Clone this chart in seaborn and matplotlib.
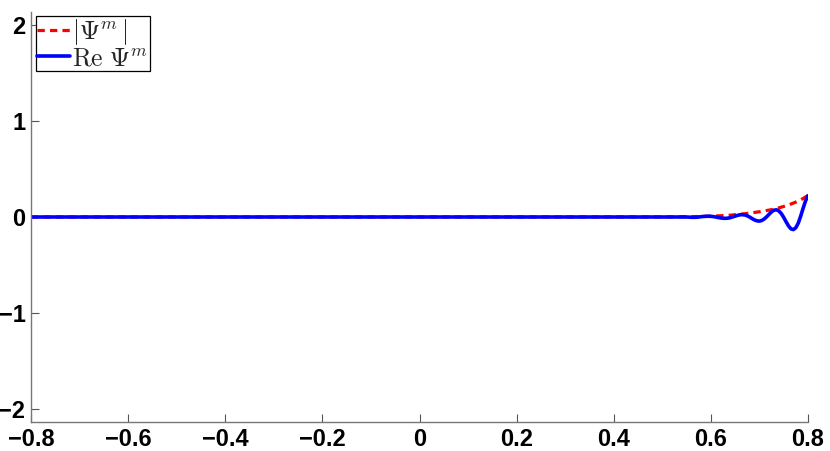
import numpy as np
import pandas as pd
import matplotlib
matplotlib.use("Agg")
import matplotlib.pyplot as plt
import seaborn as sns

# |Psi^m| (envelope)
x_abs = [-0.80, 0.50, 0.55, 0.58, 0.60, 0.62, 0.64, 0.66, 0.68, 0.70, 0.72,
         0.73, 0.74, 0.75, 0.76, 0.77, 0.78, 0.79, 0.80]
abs_vals = [0.0, 0.001, 0.003, 0.005, 0.009, 0.013, 0.019, 0.029, 0.040, 0.055, 0.072,
            0.082, 0.095, 0.110, 0.126, 0.145, 0.166, 0.193, 0.225]

# Re Psi^m
x_re = [-0.80, 0.50, 0.55, 0.56, 0.57, 0.575, 0.58, 0.585, 0.59, 0.595, 0.60,
        0.605, 0.61, 0.615, 0.62, 0.625, 0.63, 0.635, 0.64, 0.645, 0.65,
        0.655, 0.66, 0.665, 0.67, 0.675, 0.68, 0.685, 0.69, 0.695, 0.70,
        0.705, 0.71, 0.715, 0.72, 0.725, 0.73, 0.735, 0.74, 0.745, 0.75,
        0.755, 0.76, 0.765, 0.77, 0.775, 0.78, 0.785, 0.79, 0.795, 0.80]
re_vals = [0.0, 0.0, 0.0, -0.003, -0.003, 0.0, 0.003, 0.006, 0.007, 0.008, 0.007,
           0.004, 0.0, -0.005, -0.010, -0.013, -0.014, -0.012, -0.007, 0.001, 0.009,
           0.017, 0.023, 0.024, 0.021, 0.012, -0.001, -0.017, -0.031, -0.040, -0.043,
           -0.036, -0.020, 0.003, 0.029, 0.054, 0.071, 0.075, 0.063, 0.036, -0.004,
           -0.051, -0.094, -0.124, -0.131, -0.111, -0.063, 0.010, 0.092, 0.168, 0.222]

x_ticks = [-0.8, -0.6, -0.4, -0.2, 0, 0.2, 0.4, 0.6, 0.8]
x_tick_labels = ["\u22120.8", "\u22120.6", "\u22120.4", "\u22120.2", "0", "0.2", "0.4", "0.6", "0.8"]
y_ticks = [-2, -1, 0, 1, 2]
y_tick_labels = ["\u22122", "\u22121", "0", "1", "2"]

sns.set_style("ticks")
plt.rcParams["font.family"] = ["Liberation Sans", "DejaVu Sans"]
plt.rcParams["mathtext.fontset"] = "cm"

fig = plt.figure(figsize=(8.30, 4.51), dpi=100)
ax = fig.add_axes([31 / 830, 1 - 422 / 451, 777 / 830, 410 / 451])

df_abs = pd.DataFrame({"x": x_abs, "y": abs_vals})
df_re = pd.DataFrame({"x": x_re, "y": re_vals})

sns.lineplot(data=df_abs, x="x", y="y", ax=ax, color="#ff0000", lw=2.3,
             linestyle=(0, (2.3, 1.6)), estimator=None, label=r"$|\Psi^m\,|$")
sns.lineplot(data=df_re, x="x", y="y", ax=ax, color="#0000ff", lw=2.6,
             estimator=None, label=r"$\mathrm{Re}\ \Psi^m$")

ax.set_xlim(-0.8, 0.8)
ax.set_ylim(-2.135, 2.135)
ax.set_xticks(x_ticks)
ax.set_xticklabels(x_tick_labels)
ax.set_yticks(y_ticks)
ax.set_yticklabels(y_tick_labels)
ax.set_xlabel("")
ax.set_ylabel("")

for side in ["top", "right"]:
    ax.spines[side].set_visible(False)
for side in ["left", "bottom"]:
    ax.spines[side].set_color("#777777")
    ax.spines[side].set_linewidth(1.0)

ax.tick_params(axis="both", direction="in", length=6, width=0.8, color="#555555",
               labelsize=17, labelcolor="black", pad=4)
for lab in ax.get_xticklabels() + ax.get_yticklabels():
    lab.set_fontweight("bold")

leg = ax.legend(loc="upper left", bbox_to_anchor=(0.006, 0.99), borderaxespad=0,
                fontsize=18.5, frameon=True, fancybox=False, edgecolor="black",
                framealpha=1, handlelength=1.3, handletextpad=0.08,
                borderpad=0.05, labelspacing=-0.05)
leg.get_frame().set_linewidth(0.9)

fig.savefig("out.png", dpi=100)
